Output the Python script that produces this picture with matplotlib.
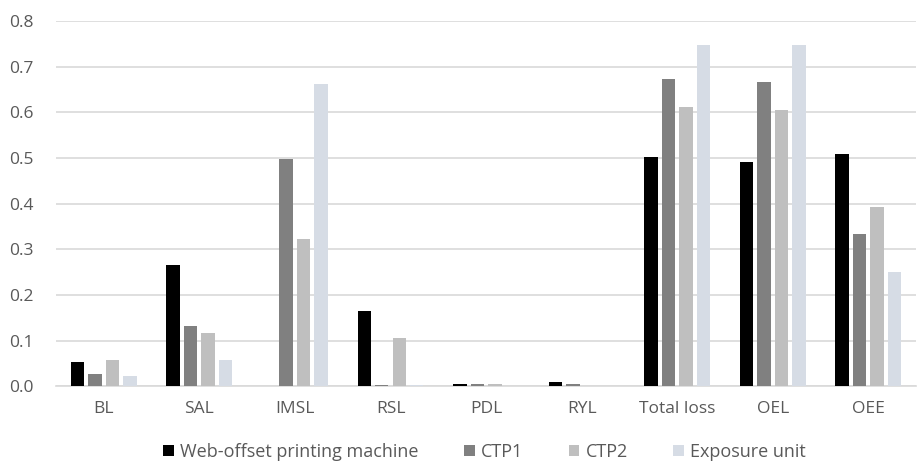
import numpy as np
import matplotlib
matplotlib.use("Agg")
import matplotlib.pyplot as plt

# --- data ---
categories = ["BL", "SAL", "IMSL", "RSL", "PDL", "RYL", "Total loss", "OEL", "OEE"]
web_offset = [0.053, 0.265, 0.0, 0.165, 0.005, 0.010, 0.503, 0.491, 0.509]
ctp1 = [0.027, 0.132, 0.497, 0.002, 0.004, 0.004, 0.672, 0.666, 0.334]
ctp2 = [0.058, 0.117, 0.323, 0.106, 0.004, 0.0, 0.612, 0.606, 0.393]
exposure = [0.023, 0.058, 0.662, 0.003, 0.0, 0.0, 0.748, 0.748, 0.251]
series_names = ["Web-offset printing machine", "CTP1", "CTP2", "Exposure unit"]
colors = ["#000000", "#808080", "#BFBFBF", "#D6DCE5"]

plt.rcParams['font.family'] = ['Open Sans', 'DejaVu Sans']

fig = plt.figure(figsize=(9.18, 4.67), dpi=100)
ax = fig.add_axes([0.061, 0.173, 0.937, 0.782])

x = np.arange(len(categories))
width = 0.14
step = 0.183
for i, (vals, name, c) in enumerate(zip([web_offset, ctp1, ctp2, exposure], series_names, colors)):
    ax.bar(x + (i - 1.5) * step, vals, width=width, color=c, label=name, zorder=3)

ax.set_xlim(-0.5, len(categories) - 0.5)
ax.set_ylim(0, 0.8)
ax.set_yticks(np.arange(0, 0.81, 0.1))
ax.set_yticklabels([f"{v:.1f}" for v in np.arange(0, 0.81, 0.1)])
ax.set_xticks(x)
ax.set_xticklabels(categories)
ax.tick_params(axis='both', length=0, labelsize=12.5, labelcolor="#595959")
ax.tick_params(axis='y', pad=16)
ax.tick_params(axis='x', pad=11)

ax.grid(axis='y', color="#D9D9D9", linewidth=1.2, zorder=0)
for s in ["top", "right", "left"]:
    ax.spines[s].set_visible(False)
ax.spines["bottom"].set_color("#D9D9D9")
ax.spines["bottom"].set_linewidth(1.2)

leg = fig.legend(loc="lower center", bbox_to_anchor=(0.528, -0.022), ncol=4, frameon=False,
                 fontsize=13, handlelength=0.6, handleheight=0.6, handletextpad=0.35,
                 columnspacing=2.5)
for t in leg.get_texts():
    t.set_color("#595959")

fig.savefig("out.png", dpi=100)
